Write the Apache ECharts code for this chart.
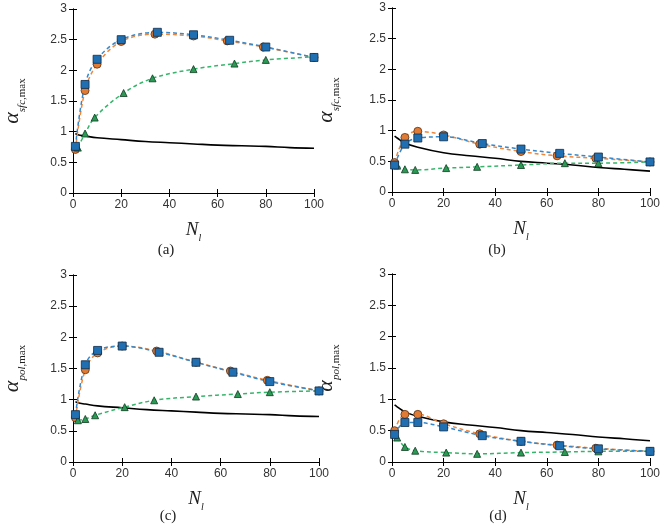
<!DOCTYPE html>
<html><head><meta charset="utf-8">
<script src="https://cdn.jsdelivr.net/npm/echarts@6/dist/echarts.min.js"></script>
<style>html,body{margin:0;padding:0;background:#fff}#c{width:663px;height:530px}</style>
</head><body><div id="c"></div>
<script>
// ---- data ----
const xOrange = [1, 5, 10, 20, 34, 50, 64, 79, 100];
const xBlue   = [1, 5, 10, 20, 35, 50, 65, 80, 100];
const xGreen  = [2, 5, 9, 21, 33, 50, 67, 80, 100];
const xBlack  = [1, 2, 5, 10, 20, 30, 40, 50, 60, 70, 80, 90, 100];

const orangeA = [0.71, 1.67, 2.10, 2.47, 2.59, 2.56, 2.48, 2.38, 2.21];
const blueA   = [0.76, 1.77, 2.18, 2.50, 2.62, 2.58, 2.49, 2.38, 2.21];
const greenA  = [0.74, 0.97, 1.23, 1.63, 1.87, 2.02, 2.11, 2.17, 2.22];

const orangeB = [0.48, 0.89, 0.99, 0.93, 0.78, 0.66, 0.59, 0.55, 0.49];
const blueB   = [0.44, 0.78, 0.88, 0.90, 0.79, 0.70, 0.63, 0.57, 0.49];
const greenB  = [0.43, 0.37, 0.36, 0.39, 0.41, 0.44, 0.47, 0.47, 0.49];

const orangeC = [0.71, 1.48, 1.75, 1.86, 1.78, 1.60, 1.46, 1.31, 1.14];
const blueC   = [0.76, 1.56, 1.79, 1.86, 1.76, 1.60, 1.44, 1.29, 1.14];
const greenC  = [0.67, 0.69, 0.75, 0.88, 0.99, 1.05, 1.09, 1.12, 1.14];

const orangeD = [0.50, 0.76, 0.76, 0.61, 0.45, 0.33, 0.27, 0.22, 0.17];
const blueD   = [0.44, 0.63, 0.63, 0.56, 0.42, 0.33, 0.26, 0.21, 0.17];
const greenD  = [0.39, 0.24, 0.18, 0.15, 0.13, 0.15, 0.16, 0.17, 0.17];

const blackAC = [0.97, 0.95, 0.93, 0.90, 0.87, 0.84, 0.82, 0.80, 0.78, 0.77, 0.76, 0.74, 0.73];
const blackBD = [0.91, 0.88, 0.80, 0.73, 0.64, 0.59, 0.55, 0.50, 0.47, 0.44, 0.40, 0.37, 0.34];

const panelLabels = ['(a)', '(b)', '(c)', '(d)'];
const yNames = ['sfc', 'sfc', 'pol', 'pol'];
const xTicks = {min: 0, max: 100, interval: 20};
const yTicks = {min: 0, max: 3, interval: 0.5};

// ---- layout ----
const grids = [
  {left: 57,  top: 9,   width: 257, height: 184},
  {left: 392, top: 8,   width: 261, height: 184},
  {left: 58,  top: 275, width: 261, height: 187},
  {left: 392, top: 274, width: 261, height: 188}
];
const yNameGap = [45, 50, 45, 50];
const labelPos = [[166, 250], [497, 250], [168, 516], [498, 516]];

const panels = [
  {o: orangeA, b: blueA, g: greenA, k: blackAC},
  {o: orangeB, b: blueB, g: greenB, k: blackBD},
  {o: orangeC, b: blueC, g: greenC, k: blackAC},
  {o: orangeD, b: blueD, g: greenD, k: blackBD}
];

const pair = (xs, ys) => xs.map((x, i) => [x, ys[i]]);
const tickFont = {fontFamily: 'Liberation Sans, Arial, sans-serif', fontSize: 12, color: '#333'};
const lineStyle = {color: '#000', width: 1};
const serif = 'Liberation Serif, Times New Roman, serif';

const xAxis = [], yAxis = [], series = [], graphic = [];
grids.forEach((g, i) => {
  xAxis.push({
    type: 'value', gridIndex: i, position: 'bottom', ...xTicks,
    axisLine: {show: true, lineStyle}, axisTick: {show: true, inside: true, length: 4, lineStyle},
    axisLabel: {...tickFont, margin: 6}, splitLine: {show: false},
    name: '{n|N}{l|l}', nameLocation: 'middle', nameGap: 27,
    nameTextStyle: {rich: {
      n: {fontFamily: serif, fontStyle: 'italic', fontSize: 19, color: '#222', verticalAlign: 'bottom', padding: [0, 0, 4, 0]},
      l: {fontFamily: serif, fontStyle: 'italic', fontSize: 10, color: '#222', verticalAlign: 'bottom'}
    }}
  });
  yAxis.push({
    type: 'value', gridIndex: i, position: 'left', ...yTicks,
    axisLine: {show: true, lineStyle}, axisTick: {show: true, inside: true, length: 4, lineStyle},
    axisLabel: {...tickFont, margin: 6}, splitLine: {show: false},
    name: '{a|α}{s|' + yNames[i] + '}{m|,max}', nameLocation: 'middle', nameGap: yNameGap[i], nameRotate: 90,
    nameTextStyle: {rich: {
      a: {fontFamily: serif, fontStyle: 'italic', fontSize: 22, color: '#222', verticalAlign: 'bottom', padding: [0, 0, 5, 0]},
      s: {fontFamily: serif, fontStyle: 'italic', fontSize: 11, color: '#222', verticalAlign: 'bottom'},
      m: {fontFamily: serif, fontSize: 11, color: '#222', verticalAlign: 'bottom'}
    }}
  });
  graphic.push({type: 'text', x: labelPos[i][0], y: labelPos[i][1],
    style: {text: panelLabels[i], font: '15px "Liberation Serif", "Times New Roman", serif', fill: '#222', textAlign: 'center', textVerticalAlign: 'middle'}});
});
grids.forEach((g, i) => {
  xAxis.push({
    type: 'value', gridIndex: i, position: 'top', ...xTicks,
    axisLine: {show: true, lineStyle}, axisTick: {show: true, inside: true, length: 4, lineStyle},
    axisLabel: {show: false}, splitLine: {show: false}
  });
  yAxis.push({
    type: 'value', gridIndex: i, position: 'right', ...yTicks,
    axisLine: {show: true, lineStyle}, axisTick: {show: true, inside: true, length: 4, lineStyle},
    axisLabel: {show: false}, splitLine: {show: false}
  });
});

const cOrange = {line: '#F0873A', fill: '#E07B35', border: '#5a3418'};
const cBlue   = {line: '#3588CC', fill: '#1F6FB2', border: '#102c48'};
const cGreen  = {line: '#35B56A', fill: '#2A9A55', border: '#0f3a20'};

function dashed(name, idx, xs, ys, c, symbol, size) {
  return {
    name, type: 'line', xAxisIndex: idx, yAxisIndex: idx, data: pair(xs, ys),
    smooth: 0.35, symbol, symbolSize: size, showSymbol: true,
    lineStyle: {color: c.line, width: 1.5, type: [4, 3]},
    itemStyle: {color: c.fill, borderColor: c.border, borderWidth: 0.8},
    animation: false, z: 3
  };
}
panels.forEach((p, i) => {
  series.push({
    type: 'line', xAxisIndex: i, yAxisIndex: i, data: pair(xBlack, p.k),
    smooth: 0.4, symbol: 'none', lineStyle: {color: '#000', width: 1.6}, animation: false, z: 2
  });
  series.push(dashed('orange', i, xOrange, p.o, cOrange, 'circle', 8));
  series.push(dashed('green', i, xGreen, p.g, cGreen, 'triangle', 7));
  series.push(dashed('blue', i, xBlue, p.b, cBlue, 'rect', 8));
});

const chart = echarts.init(document.getElementById('c'), null, {renderer: 'canvas'});
chart.setOption({
  backgroundColor: '#fff', animation: false,
  grid: grids.map(g => ({...g, containLabel: false})),
  xAxis, yAxis, series, graphic
});
</script></body></html>
